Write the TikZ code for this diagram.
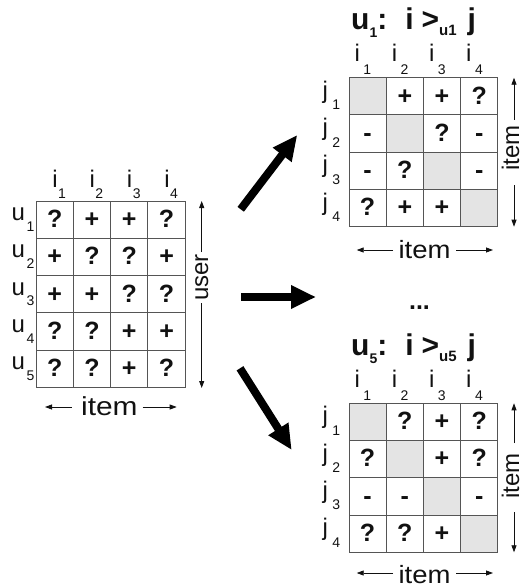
\documentclass[tikz,border=0pt]{standalone}
\usepackage{fontspec}
\setmainfont{Liberation Sans}
\usetikzlibrary{arrows.meta}
\definecolor{txtc}{HTML}{111111}
\definecolor{gridc}{HTML}{555555}
\definecolor{diagc}{HTML}{E4E4E4}
\newcommand{\mylab}[4]{\fontsize{24}{28}\selectfont #1\kern#3pt\raisebox{-#4pt}{\fontsize{14}{16}\selectfont #2}}
\newcommand{\ttl}[2]{\bfseries\fontsize{30}{32}\selectfont u\raisebox{-8pt}{\fontsize{14}{16}\selectfont #1}:\hspace{18pt}i\hspace{8pt}>\raisebox{-6pt}{\fontsize{15}{16}\selectfont #2}\hspace{11pt}j}
\begin{document}
\begin{tikzpicture}[x=1pt,y=-1pt,
  lbl/.style={inner sep=0pt, anchor=base west, text=txtc},
  sym/.style={inner sep=0pt, anchor=base, text=txtc, font=\bfseries\fontsize{25}{28}\selectfont},
  cellbox/.style={draw=gridc, line width=0.9pt},
  diagcell/.style={fill=diagc},
  axisarrow/.style={draw=txtc, line width=0.8pt, -{Triangle[length=7pt,width=5pt]}},
  bigarrow/.style={draw=black, line width=8pt, -{Triangle[length=25pt,width=22pt]}},
  axtext/.style={inner sep=0pt, anchor=base, text=txtc, font=\fontsize{25}{28}\selectfont}]
\useasboundingbox (0,0) rectangle (520,588);

% ---------------- left matrix ----------------
\foreach \row [count=\r] in {{?,+,+,?},{+,?,?,+},{+,+,?,?},{?,?,+,+},{?,?,+,?}}{
  \foreach \s [count=\c] in \row {
    \draw[cellbox] ({36+(\c-1)*37.3},{201+(\r-1)*37.3}) rectangle ++(37.3,37.3);
    \node[sym] (L-\r-\c) at ({36+(\c-0.5)*37.3},{201+(\r-0.5)*37.3+7.8}) {\s};
  }
}
\foreach \c in {1,...,4}{
  \node[lbl] (Li\c) at ({36+(\c-0.5)*37.3-2.5},187) {\mylab{i}{\c}{0.5}{11}};
}
\foreach \r in {1,...,5}{
  \node[lbl] (Lu\r) at (11.5,{201+(\r-0.5)*37.3+1}) {\mylab{u}{\r}{1.5}{10.5}};
}
% bottom item axis
\node[axtext, font=\fontsize{26}{28}\selectfont] (Litem) at (109.4,415) {\scalebox{1.15}[1]{item}};
\coordinate (LiA) at (71.7,407); \coordinate (LiAe) at (45,407);
\coordinate (LiB) at (142.7,407); \coordinate (LiBe) at (176.7,407);
\draw[axisarrow] (LiA) -- (LiAe);
\draw[axisarrow] (LiB) -- (LiBe);
% user axis
\node[axtext, rotate=90, font=\fontsize{24}{28}\selectfont] (user) at (208,277.5) {user};
\coordinate (uA) at (201.7,252); \coordinate (uAe) at (201.7,201);
\coordinate (uB) at (201.7,303); \coordinate (uBe) at (201.7,388);
\draw[axisarrow] (uA) -- (uAe);
\draw[axisarrow] (uB) -- (uBe);

% ---------------- top right matrix ----------------
\foreach \k in {0,...,3}{
  \fill[diagcell] ({349+\k*37.2},{77.7+\k*37.25}) rectangle ++(37.2,37.25);
}
\foreach \row [count=\r] in {{{},+,+,?},{-,{},?,-},{-,?,{},-},{?,+,+,{}}}{
  \foreach \s [count=\c] in \row {
    \draw[cellbox] ({349+(\c-1)*37.2},{77.7+(\r-1)*37.25}) rectangle ++(37.2,37.25);
    \node[sym] (T-\r-\c) at ({349+(\c-0.5)*37.2},{77.7+(\r-0.5)*37.25+7.8}) {\s};
  }
}
\foreach \c in {1,...,4}{
  \node[lbl] (Ti\c) at ({349+(\c-0.5)*37.2-13.2},62) {\mylab{i}{\c}{3.5}{13}};
}
\foreach \r in {1,...,4}{
  \node[lbl] (Tj\r) at (322.3,{77.7+(\r-0.5)*37.25+2}) {\mylab{j}{\r}{4.5}{11.5}};
}
\node[lbl] (Ttitle) at (351,30) {\ttl{1}{u1}};
\node[axtext] (Titem) at (424.5,258.3) {\scalebox{1.1}[1]{item}};
\coordinate (TiA) at (393,250); \coordinate (TiAe) at (356.7,250);
\coordinate (TiB) at (456,250); \coordinate (TiBe) at (493,250);
\draw[axisarrow] (TiA) -- (TiAe);
\draw[axisarrow] (TiB) -- (TiBe);
\node[axtext, rotate=90, font=\fontsize{24}{28}\selectfont] (Tvitem) at (519,148) {item};
\coordinate (TvA) at (514,120); \coordinate (TvAe) at (514,77.7);
\coordinate (TvB) at (514,185); \coordinate (TvBe) at (514,226.7);
\draw[axisarrow] (TvA) -- (TvAe);
\draw[axisarrow] (TvB) -- (TvBe);

% ---------------- dots ----------------
\node[sym] (dots) at (419.5,309) {...};

% ---------------- bottom right matrix ----------------
\foreach \k in {0,...,3}{
  \fill[diagcell] ({349+\k*37.2},{403.3+\k*37.25}) rectangle ++(37.2,37.25);
}
\foreach \row [count=\r] in {{{},?,+,?},{?,{},+,?},{-,-,{},-},{?,?,+,{}}}{
  \foreach \s [count=\c] in \row {
    \draw[cellbox] ({349+(\c-1)*37.2},{403.3+(\r-1)*37.25}) rectangle ++(37.2,37.25);
    \node[sym] (B-\r-\c) at ({349+(\c-0.5)*37.2},{403.3+(\r-0.5)*37.25+7.8}) {\s};
  }
}
\foreach \c in {1,...,4}{
  \node[lbl] (Bi\c) at ({349+(\c-0.5)*37.2-13.2},387.6) {\mylab{i}{\c}{3.5}{13}};
}
\foreach \r in {1,...,4}{
  \node[lbl] (Bj\r) at (322.3,{403.3+(\r-0.5)*37.25+2}) {\mylab{j}{\r}{4.5}{11.5}};
}
\node[lbl] (Btitle) at (351,355.6) {\ttl{5}{u5}};
\node[axtext] (Bitem) at (424.5,583.5) {\scalebox{1.1}[1]{item}};
\coordinate (BiA) at (393,573); \coordinate (BiAe) at (356.7,573);
\coordinate (BiB) at (456,573); \coordinate (BiBe) at (493,573);
\draw[axisarrow] (BiA) -- (BiAe);
\draw[axisarrow] (BiB) -- (BiBe);
\node[axtext, rotate=90, font=\fontsize{24}{28}\selectfont] (Bvitem) at (519,476) {item};
\coordinate (BvA) at (514,443); \coordinate (BvAe) at (514,403.3);
\coordinate (BvB) at (514,512); \coordinate (BvBe) at (514,552.3);
\draw[axisarrow] (BvA) -- (BvAe);
\draw[axisarrow] (BvB) -- (BvBe);

% ---------------- big arrows ----------------
\coordinate (a1s) at (240.7,209.3); \coordinate (a1e) at (297.3,135);
\coordinate (a2s) at (241,297);     \coordinate (a2e) at (316,297);
\coordinate (a3s) at (240,368.3);   \coordinate (a3e) at (291.7,450);
\draw[bigarrow] (a1s) -- (a1e);
\draw[bigarrow] (a2s) -- (a2e);
\draw[bigarrow] (a3s) -- (a3e);
\end{tikzpicture}
\end{document}
